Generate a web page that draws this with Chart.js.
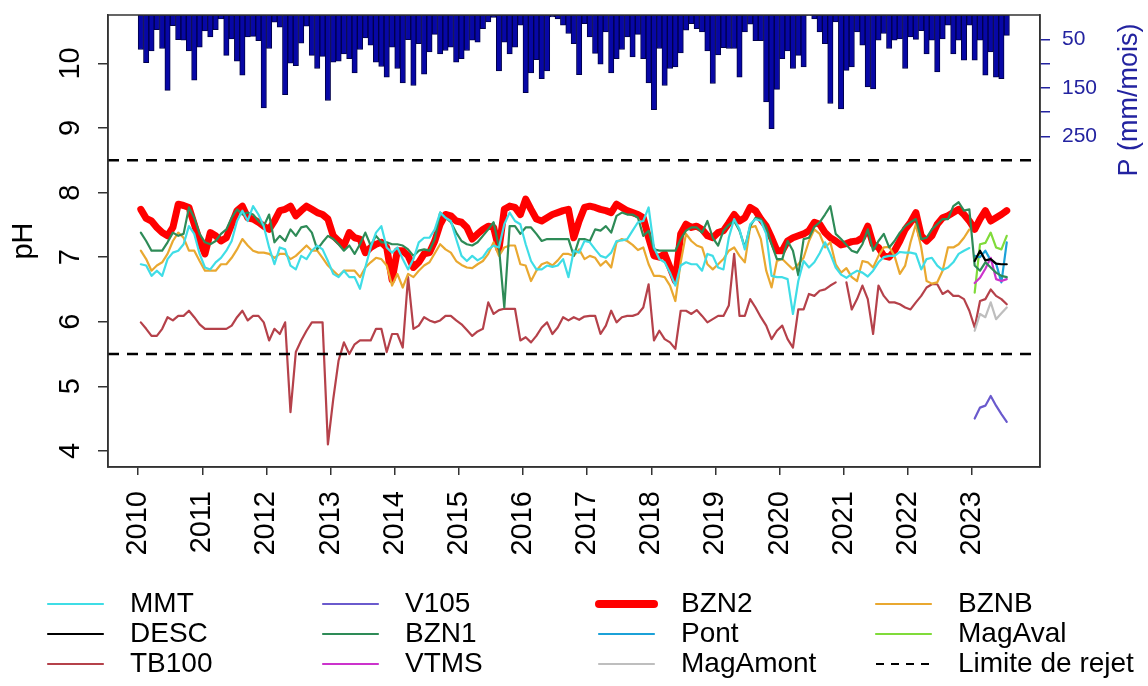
<!DOCTYPE html>
<html>
<head>
<meta charset="utf-8">
<script src="https://cdn.jsdelivr.net/npm/chart.js@4.4.1/dist/chart.umd.min.js"></script>
<style>
  html, body { margin: 0; padding: 0; background: #fff; }
  canvas { display: block; }
</style>
</head>
<body>
<canvas id="ph-chart" width="1148" height="686"></canvas>
<script>
// monthly values, index 0 = Jan 2010, last = Jul 2023
const firstYear = 2010;
const yearTicks = [2010, 2011, 2012, 2013, 2014, 2015, 2016, 2017, 2018, 2019, 2020, 2021, 2022, 2023];
const phTicks = [4, 5, 6, 7, 8, 9, 10];
const rainTicks = [50, 100, 150, 200, 250];
const rainLabels = [50, 150, 250];
const limits = [8.5, 5.5];

// monthly precipitation (mm/mois)
const rain = [
  71, 98, 74, 30, 69, 155, 22, 51, 52, 74,
  134, 66, 33, 45, 30, 8, 83, 49, 95, 124,
  45, 44, 53, 191, 69, 15, 25, 164, 99, 104,
  58, 23, 83, 110, 85, 176, 97, 95, 80, 90,
  119, 71, 47, 62, 97, 106, 128, 66, 110, 140,
  51, 145, 59, 122, 76, 40, 80, 73, 66, 97,
  90, 73, 52, 56, 28, 14, 5, 115, 56, 80,
  66, 21, 160, 119, 92, 131, 115, 4, 8, 21,
  38, 59, 123, 18, 45, 79, 101, 35, 119, 90,
  71, 45, 86, 40, 90, 140, 195, 69, 145, 110,
  107, 78, 31, 18, 28, 35, 74, 141, 82, 67,
  69, 69, 128, 35, 19, 53, 53, 179, 234, 153,
  90, 74, 110, 83, 107, 1, 8, 35, 59, 182,
  14, 193, 114, 107, 35, 62, 148, 152, 52, 38,
  69, 52, 49, 110, 45, 50, 32, 80, 52, 117,
  49, 21, 80, 52, 93, 21, 93, 52, 124, 76,
  128, 131, 42
];

const BZN2 = [
  7.74, 7.6, 7.56, 7.46, 7.38, 7.33, 7.46, 7.82, 7.8, 7.77,
  7.51, 7.25, 7.05, 7.38, 7.33, 7.25, 7.3, 7.51, 7.72, 7.79,
  7.61, 7.59, 7.54, 7.48, 7.43, 7.56, 7.72, 7.74, 7.79, 7.64,
  7.72, 7.79, 7.74, 7.69, 7.66, 7.59, 7.33, 7.25, 7.18, 7.38,
  7.3, 7.28, 7.07, 7.15, 7.2, 7.23, 7.15, 6.65, 7.1, 7.1,
  7.02, 6.84, 6.92, 7.05, 7.07, 7.25, 7.51, 7.66, 7.64, 7.56,
  7.54, 7.46, 7.28, 7.36, 7.43, 7.48, 7.46, 7.12, 7.74, 7.79,
  7.77, 7.66, 7.9, 7.74, 7.59, 7.56, 7.61, 7.66, 7.69, 7.72,
  7.74, 7.3, 7.56, 7.77, 7.79, 7.77, 7.74, 7.72, 7.69, 7.82,
  7.77, 7.72, 7.69, 7.66, 7.61, 7.3, 7.02, 7.0, 7.05, 6.84,
  6.63, 7.36, 7.51, 7.46, 7.48, 7.43, 7.33, 7.3, 7.38, 7.41,
  7.53, 7.66, 7.56, 7.61, 7.77, 7.72, 7.59, 7.48, 7.3, 7.1,
  7.1, 7.25, 7.3, 7.33, 7.36, 7.41, 7.54, 7.51, 7.38, 7.3,
  7.25, 7.19, 7.21, 7.24, 7.25, 7.3, 7.48, 7.2, 7.15, 7.02,
  7.0, 7.1, 7.25, 7.43, 7.54, 7.69, 7.33, 7.25, 7.33, 7.51,
  7.61, 7.64, 7.69, 7.74, 7.66, 7.56, 7.43, 7.59, 7.72, 7.56,
  7.61, 7.66, 7.72
];

const BZN1 = [
  7.38, 7.25, 7.1, 7.1, 7.1, 7.23, 7.38, 7.33, 7.36, 7.77,
  7.61, 7.36, 7.23, 7.2, 7.25, 7.36, 7.43, 7.61, 7.74, 7.66,
  7.69, 7.66, 7.56, 7.48, 7.66, 7.23, 7.33, 7.25, 7.43, 7.33,
  7.46, 7.48, 7.38, 7.12, 7.23, 7.33, 7.28, 7.2, 7.1, 7.18,
  7.05, 7.2, 7.38, 7.18, 7.33, 7.23, 7.23, 7.2, 7.2, 7.18,
  7.12, 7.02, 7.1, 7.12, 7.1, 7.28, 7.69, 7.61, 7.54, 7.38,
  7.25, 7.2, 7.18, 7.23, 7.33, 7.43, 7.54, 7.15, 6.22, 7.48,
  7.48, 7.36, 7.46, 7.46, 7.36, 7.25, 7.28, 7.28, 7.28, 7.28,
  7.28, 7.02, 7.28, 7.28, 7.25, 7.43, 7.41, 7.48, 7.38, 7.64,
  7.69, 7.66, 7.66, 7.61, 7.33, 7.41, 7.12, 7.1, 7.1, 7.1,
  7.1, 7.28, 7.41, 7.46, 7.46, 7.38, 7.56, 7.3, 7.18, 7.41,
  7.5, 7.56, 7.41, 7.15, 7.48, 7.61, 7.59, 7.46, 7.2, 6.97,
  6.97, 7.25, 7.1, 6.72, 7.28, 7.3, 7.47, 7.54, 7.66, 7.79,
  7.36, 7.28, 7.19, 7.1, 7.07, 7.2, 7.43, 7.1, 7.25, 7.36,
  7.15, 7.25, 7.38, 7.48, 7.54, 7.59, 7.28, 7.3, 7.43, 7.51,
  7.59, 7.59, 7.79, 7.85, 7.72, 7.74, 6.87, 6.79, 6.92, 6.84,
  6.76, 6.71, 6.69
];

const MMT = [
  6.89, 6.87, 6.71, 6.79, 6.71, 6.97, 7.07, 7.1, 7.2, 7.48,
  7.36, 7.05, 6.84, 6.81, 6.92, 6.99, 7.1, 7.25, 7.56, 7.72,
  7.56, 7.79, 7.66, 7.48, 7.15, 6.89, 7.15, 7.12, 6.87, 6.81,
  7.02, 6.97, 7.1, 7.18, 7.12, 6.94, 6.74, 6.69, 6.79, 6.69,
  6.69, 6.51, 6.84, 7.15, 7.38, 7.48, 7.15, 7.07, 7.15, 6.97,
  6.81, 6.97, 7.23, 7.3, 7.3, 7.43, 7.69, 7.61, 7.56, 7.28,
  7.02, 6.94, 7.02, 6.95, 7.0, 7.12, 7.18, 7.15, 7.51, 7.69,
  7.56, 7.51, 7.2, 6.94, 6.81, 6.81, 6.87, 6.85, 6.87, 6.97,
  6.69, 7.1, 7.07, 7.25, 7.23, 7.12, 7.02, 6.99, 7.07, 7.25,
  7.26, 7.28, 7.41, 7.54, 7.56, 7.77, 7.15, 6.97, 6.92, 6.76,
  6.56, 6.87, 6.92, 6.89, 6.89, 6.79, 7.05, 7.02, 6.84, 6.81,
  7.3, 7.59, 7.43, 7.12, 7.51, 7.59, 7.56, 7.36, 6.71, 6.69,
  6.69, 6.66, 6.12, 6.63, 6.94, 6.84, 6.92, 7.06, 7.23, 7.05,
  6.84, 6.73, 6.68, 6.74, 6.79, 6.76, 6.7, 6.79, 6.92, 7.0,
  7.02, 7.02, 7.08, 7.07, 7.07, 7.05, 6.81, 6.97, 6.99, 6.87,
  6.8, 6.84, 6.92, 7.05, 7.1, 7.14
];

const BZNB = [
  7.1, 6.97, 6.79, 6.87, 6.92, 7.05, 7.25, 7.38, 7.3, 7.1,
  7.1, 6.94, 6.79, 6.79, 6.79, 6.89, 6.89, 6.99, 7.12, 7.28,
  7.18, 7.1, 7.07, 7.07, 7.05, 6.99, 7.05, 7.05, 6.97, 7.02,
  7.1, 7.18, 7.1, 7.1, 6.99, 6.87, 6.79, 6.71, 6.79, 6.79,
  6.79, 6.69, 6.84, 6.92, 6.99, 6.97, 6.87, 6.56, 6.74, 6.53,
  6.74, 6.69, 6.79, 6.87, 6.92, 7.06, 7.2, 7.12, 7.07, 6.94,
  6.88, 6.84, 6.83, 6.89, 6.94, 7.05, 7.23, 7.02, 7.15, 7.18,
  7.18, 6.89, 6.87, 6.63, 6.79, 6.89, 6.92, 6.87, 6.95, 7.05,
  7.05, 7.02, 7.12, 6.97, 7.02, 6.99, 6.87, 6.94, 6.84, 7.23,
  7.28, 7.25, 7.19, 7.11, 7.15, 6.89, 6.71, 6.71, 6.69, 6.56,
  6.32, 6.92, 7.36, 7.25, 7.18, 7.15, 6.89, 6.81, 6.89, 6.97,
  7.1, 7.15, 7.02, 6.92, 7.46, 7.48, 7.28, 6.79, 6.53, 6.94,
  6.97, 6.89, 6.81, 6.89, 6.99, 7.25, 7.43, 7.36, 7.15, 7.23,
  6.89, 6.76, 6.83, 6.69, 6.63, 6.94, 6.92, 6.84, 7.02, 7.15,
  7.16, 7.02, 6.74, 6.87, 7.23, 7.51, 7.15, 6.63, 6.59, 6.61,
  6.79, 7.15, 7.15, 7.2, 7.3, 7.43
];

const TB100 = [
  5.99, 5.89, 5.78, 5.78, 5.89, 6.07, 6.02, 6.09, 6.09, 6.17,
  6.07, 5.96, 5.89, 5.89, 5.89, 5.89, 5.89, 5.94, 6.07, 6.17,
  6.02, 6.09, 6.09, 5.99, 5.71, 5.89, 5.81, 5.99, 4.6, 5.53,
  5.71, 5.86, 5.99, 5.99, 5.99, 4.1, 4.8, 5.4, 5.68, 5.5,
  5.65, 5.71, 5.71, 5.71, 5.89, 5.89, 5.53, 5.81, 5.81, 5.6,
  6.69, 5.89, 5.94, 6.07, 6.02, 5.99, 6.02, 6.09, 6.09, 6.02,
  5.96, 5.87, 5.78, 5.85, 5.89, 6.3, 6.12, 6.18, 6.2, 6.2,
  6.2, 5.71, 5.76, 5.68, 5.78, 5.91, 5.99, 5.81, 5.91, 6.07,
  6.02, 6.07, 6.03, 6.08, 6.09, 6.09, 5.81, 5.94, 6.17, 5.99,
  6.07, 6.09, 6.09, 6.12, 6.22, 6.58, 5.71, 5.86, 5.73, 5.68,
  5.58, 6.17, 6.17, 6.12, 6.18, 6.09, 5.99, 6.04, 6.09, 6.09,
  6.25, 7.05, 6.09, 6.09, 6.35, 6.22, 6.07, 5.94, 5.73, 5.86,
  5.94, 5.73, 5.6, 6.19, 6.19, 6.43, 6.4, 6.48, 6.5, 6.56,
  6.61, null, 6.61, 6.19, 6.35, 6.56, 6.35, 5.81, 6.56, 6.4,
  6.3, 6.3, 6.27, 6.22, 6.19, 6.3, 6.4, 6.53, 6.58, 6.58,
  6.43, 6.48, 6.4, 6.4, 6.35, 6.17, 5.91, 6.32, 6.35, 6.5,
  6.4, 6.35, 6.27
];

// stations sampled only in 2023 (Jan - Jul)
const start2023 = 156;
const DESC = [6.94, 7.1, 6.95, 6.97, 6.9, 6.89, 6.89];
const V105 = [4.5, 4.67, 4.7, 4.85, 4.7, 4.57, 4.45];
const VTMS = [6.6, 6.68, 6.82, 6.99, 6.66, 6.63, 6.66];
const Pont = [7.02, 7.0, 7.1, 6.95, 6.9, 6.61, 7.23];
const MagAmont = [5.86, 6.12, 6.07, 6.3, 6.04, 6.13, 6.22];
const MagAval = [6.45, 7.2, 7.22, 7.38, 7.15, 7.12, 7.33];

const xMin = 2009.53;
const xMax = 2024.06;
const FONT = '"Liberation Sans", Arial, Helvetica, sans-serif';
const BLUE = '#2323a0';

const monthX = m => firstYear + (m + 0.5) / 12;
const toPoints = (arr, offset = 0) => arr.map((v, i) => ({ x: monthX(i + offset), y: v }));

const series = [
  { label: 'MMT', data: MMT, off: 0, color: '#3fdde6', width: 2.2 },
  { label: 'DESC', data: DESC, off: start2023, color: '#000000', width: 2.2 },
  { label: 'TB100', data: TB100, off: 0, color: '#b5414a', width: 2.2 },
  { label: 'V105', data: V105, off: start2023, color: '#6a5acd', width: 2.2 },
  { label: 'BZN1', data: BZN1, off: 0, color: '#2e8b57', width: 2.2 },
  { label: 'VTMS', data: VTMS, off: start2023, color: '#cc33cc', width: 2.2 },
  { label: 'BZN2', data: BZN2, off: 0, color: '#ff0000', width: 7 },
  { label: 'Pont', data: Pont, off: start2023, color: '#1ba1d8', width: 2.2 },
  { label: 'MagAmont', data: MagAmont, off: start2023, color: '#bebebe', width: 2.2 },
  { label: 'BZNB', data: BZNB, off: 0, color: '#e9a830', width: 2.2 },
  { label: 'MagAval', data: MagAval, off: start2023, color: '#80db3a', width: 2.2 }
];

const datasets = series.map((s, i) => ({
  type: 'line',
  label: s.label,
  data: toPoints(s.data, s.off),
  borderColor: s.color,
  borderWidth: s.width,
  pointRadius: 0,
  tension: 0,
  spanGaps: false,
  borderJoinStyle: 'round',
  borderCapStyle: 'round',
  yAxisID: 'y',
  order: s.label === 'BZN2' ? 20 : (s.label === 'TB100' ? 15 : i)
}));

limits.forEach(v => {
  datasets.push({
    type: 'line',
    label: 'Limite de rejet',
    data: [{ x: xMin, y: v }, { x: xMax, y: v }],
    borderColor: '#000',
    borderWidth: 2.4,
    borderDash: [11, 8],
    pointRadius: 0,
    yAxisID: 'y',
    order: 0
  });
});

datasets.push({
  type: 'bar',
  label: 'P',
  data: toPoints(rain),
  backgroundColor: '#0707a6',
  borderColor: '#00004a',
  borderWidth: 1,
  borderSkipped: false,
  barPercentage: 1,
  categoryPercentage: 1,
  yAxisID: 'y2',
  order: 30
});

// texts and legend R-style: rotated y labels, axis titles, box
const overlay = {
  id: 'overlay',
  afterDraw(chart) {
    const { ctx, chartArea: a, scales } = chart;
    ctx.save();
    ctx.strokeStyle = '#333';
    ctx.lineWidth = 1.5;
    ctx.strokeRect(a.left, a.top, a.right - a.left, a.bottom - a.top);

    ctx.fillStyle = '#000';
    ctx.font = '29px ' + FONT;
    ctx.textAlign = 'center';
    ctx.textBaseline = 'middle';
    scales.y.ticks.forEach(t => {
      ctx.save();
      ctx.translate(71, scales.y.getPixelForValue(t.value));
      ctx.rotate(-Math.PI / 2);
      ctx.fillText(String(t.value), 0, 0);
      ctx.restore();
    });

    ctx.save();
    ctx.translate(24, (a.top + a.bottom) / 2);
    ctx.rotate(-Math.PI / 2);
    ctx.fillText('pH', 0, 0);
    ctx.restore();

    ctx.save();
    ctx.fillStyle = BLUE;
    ctx.font = '27px ' + FONT;
    ctx.translate(1130, 100);
    ctx.rotate(-Math.PI / 2);
    ctx.fillText('P (mm/mois)', 0, 0);
    ctx.restore();

    // legend, filled column by column
    const items = series.map(s => ({ label: s.label, color: s.color, width: s.width === 7 ? 8 : 2.2 }));
    items.push({ label: 'Limite de rejet', color: '#000', width: 2.2, dash: [8, 7] });
    const colX = [48, 323, 599, 876];
    const rowY = [604, 634, 664];
    ctx.font = '28px ' + FONT;
    ctx.textAlign = 'left';
    items.forEach((it, i) => {
      const x = colX[Math.floor(i / 3)];
      const y = rowY[i % 3];
      ctx.beginPath();
      ctx.strokeStyle = it.color;
      ctx.lineWidth = it.width;
      ctx.lineCap = it.dash ? 'butt' : 'round';
      ctx.setLineDash(it.dash || []);
      ctx.moveTo(x, y);
      ctx.lineTo(x + 55, y);
      ctx.stroke();
      ctx.setLineDash([]);
      ctx.fillStyle = '#000';
      ctx.fillText(it.label, x + 82, y);
    });
    ctx.restore();
  }
};

Chart.defaults.font.family = FONT;

// no extra label padding above/below the vertical axes
const noPad = s => { s.paddingTop = 0; s.paddingBottom = 0; };

new Chart(document.getElementById('ph-chart'), {
  type: 'line',
  data: { datasets },
  options: {
    responsive: false,
    animation: false,
    layout: { padding: { top: 15, left: 0, right: 0, bottom: 0 } },
    plugins: { legend: { display: false }, tooltip: { enabled: false } },
    scales: {
      x: {
        type: 'linear',
        min: xMin,
        max: xMax,
        offset: false,
        afterBuildTicks: s => { s.ticks = yearTicks.map(v => ({ value: v })); },
        afterFit: s => { s.height = 219; s.paddingLeft = 0; s.paddingRight = 0; },
        ticks: {
          autoSkip: false,
          minRotation: 90,
          maxRotation: 90,
          padding: 16,
          color: '#000',
          font: { size: 29 },
          callback: v => String(v)
        },
        grid: { offset: false, drawOnChartArea: false, drawTicks: true, tickLength: 8, color: '#333', lineWidth: 1.5 },
        border: { display: true, color: '#333', width: 1.5 }
      },
      y: {
        position: 'left',
        min: 3.75,
        max: 10.75,
        afterBuildTicks: s => { s.ticks = phTicks.map(v => ({ value: v })); },
        afterFit: s => { s.width = 108; noPad(s); },
        ticks: { display: false },
        grid: { drawOnChartArea: false, drawTicks: true, tickLength: 10, color: '#333', lineWidth: 1.5 },
        border: { display: true, color: '#333', width: 1.5 }
      },
      y2: {
        position: 'right',
        reverse: true,
        min: 0,
        max: 930,
        afterBuildTicks: s => { s.ticks = rainTicks.map(v => ({ value: v })); },
        afterFit: s => { s.width = 108; noPad(s); },
        ticks: {
          color: BLUE,
          padding: 12,
          font: { size: 21 },
          callback: v => rainLabels.includes(v) ? String(v) : ''
        },
        grid: { drawOnChartArea: false, drawTicks: true, tickLength: 10, color: BLUE, lineWidth: 1.5 },
        border: { display: true, color: '#333', width: 1.5 }
      }
    }
  },
  plugins: [overlay]
});
</script>
</body>
</html>
